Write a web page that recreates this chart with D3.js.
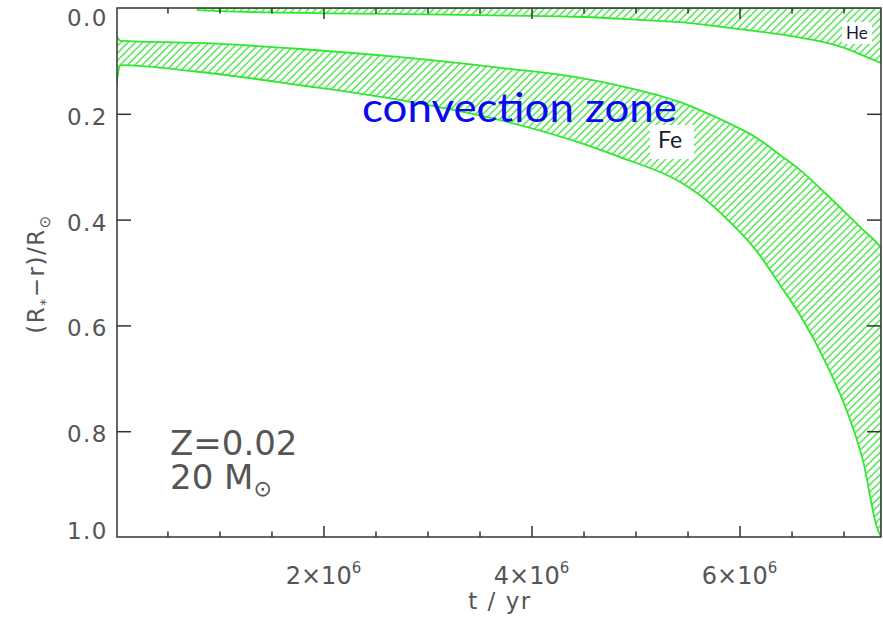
<!DOCTYPE html>
<html>
<head>
<meta charset="utf-8">
<script src="https://cdn.jsdelivr.net/npm/d3@7"></script>
<style>
  body { margin: 0; background: #fff; }
  .tick line { stroke: #333; stroke-width: 1.5; }
  .lbl { font-family: "DejaVu Sans", "Liberation Sans", sans-serif; fill: #555; }
</style>
</head>
<body>
<div id="vis"></div>
<script>
const MARGINS = { left: 117, right: 2, top: 8, bottom: 81 };
const FRAME_WIDTH = 883;
const FRAME_HEIGHT = 618;
const VIS_WIDTH = FRAME_WIDTH - MARGINS.left - MARGINS.right;
const VIS_HEIGHT = FRAME_HEIGHT - MARGINS.top - MARGINS.bottom;

// Fe convection zone: time (yr), upper and lower boundary in (R*-r)/Rsun
const feTime   = [0, 0.05e6, 0.81e6, 1.78e6, 2.74e6, 3.7e6, 4.47e6, 4.85e6, 5.43e6, 5.62e6, 5.91e6, 6.17e6, 6.39e6, 6.58e6, 6.84e6, 7.04e6, 7.19e6, 7.32e6, 7.36e6];
const feTop    = [0.05, 0.062, 0.066, 0.0775, 0.093, 0.113, 0.132, 0.147, 0.178, 0.193, 0.219, 0.246, 0.278, 0.306, 0.353, 0.391, 0.42, 0.444, 0.454];
const feBottom = [0.16, 0.108, 0.121, 0.146, 0.174, 0.212, 0.255, 0.282, 0.329, 0.354, 0.405, 0.461, 0.524, 0.58, 0.675, 0.766, 0.858, 0.981, 1.0];

// He convection zone (reaches the surface)
const heTime   = [0.79e6, 1.0e6, 2.0e6, 3.0e6, 4.0e6, 4.5e6, 5.0e6, 5.5e6, 6.0e6, 6.5e6, 6.8e6, 7.0e6, 7.2e6, 7.36e6];
const heTop    = [0, 0, 0, 0, 0, 0, 0, 0, 0, 0, 0, 0, 0, 0];
const heBottom = [0.004, 0.006, 0.01, 0.012, 0.015, 0.017, 0.022, 0.028, 0.04, 0.053, 0.064, 0.075, 0.091, 0.104];

const xMajor = [2e6, 4e6, 6e6];
const xMinor = [0.5e6, 1e6, 1.5e6, 2.5e6, 3e6, 3.5e6, 4.5e6, 5e6, 5.5e6, 6.5e6, 7e6];
const yTicks = [0, 0.2, 0.4, 0.6, 0.8, 1.0];

const svg = d3.select("#vis").append("svg")
  .attr("width", FRAME_WIDTH)
  .attr("height", FRAME_HEIGHT);

const defs = svg.append("defs");
defs.append("clipPath").attr("id", "plotclip")
  .append("rect").attr("width", VIS_WIDTH).attr("height", VIS_HEIGHT);

const hatch = defs.append("pattern")
  .attr("id", "hatch")
  .attr("patternUnits", "userSpaceOnUse")
  .attr("width", 5.2).attr("height", 10)
  .attr("patternTransform", "rotate(45)");
hatch.append("line")
  .attr("x1", 1).attr("y1", 0).attr("x2", 1).attr("y2", 10)
  .attr("stroke", "#4fe44f").attr("stroke-width", 1.45);

const X_SCALE = d3.scaleLinear().domain([0.015e6, 7.36e6]).range([0, VIS_WIDTH]);
const Y_SCALE = d3.scaleLinear().domain([0, 1]).range([0, VIS_HEIGHT]);

const g = svg.append("g")
  .attr("transform", "translate(" + MARGINS.left + "," + MARGINS.top + ")");

const plot = g.append("g").attr("clip-path", "url(#plotclip)");

function band(time, top, bottom) {
  return time.map((t, i) => ({ t: t, a: top[i], b: bottom[i] }));
}

const area = d3.area()
  .x((d) => X_SCALE(d.t))
  .y0((d) => Y_SCALE(d.a))
  .y1((d) => Y_SCALE(d.b))
  .curve(d3.curveMonotoneX);

[band(feTime, feTop, feBottom), band(heTime, heTop, heBottom)].forEach((data) => {
  plot.append("path")
    .datum(data)
    .attr("d", area)
    .attr("fill", "url(#hatch)")
    .attr("stroke", "#2fe82f")
    .attr("stroke-width", 1.8)
    .attr("stroke-linejoin", "round");
});

// axes: ticks pointing inward on all four sides
function styleAxis(sel) {
  sel.select(".domain").remove();
  sel.selectAll("text").remove();
}

g.append("g").attr("transform", "translate(0," + VIS_HEIGHT + ")")
  .call(d3.axisBottom(X_SCALE).tickValues(xMajor).tickSize(-11)).call(styleAxis);
g.append("g").attr("transform", "translate(0," + VIS_HEIGHT + ")")
  .call(d3.axisBottom(X_SCALE).tickValues(xMinor).tickSize(-5.5)).call(styleAxis);
g.append("g")
  .call(d3.axisTop(X_SCALE).tickValues(xMajor).tickSize(-11)).call(styleAxis);
g.append("g")
  .call(d3.axisTop(X_SCALE).tickValues(xMinor).tickSize(-5.5)).call(styleAxis);
g.append("g")
  .call(d3.axisLeft(Y_SCALE).tickValues(yTicks.slice(1, -1)).tickSize(-14)).call(styleAxis);
g.append("g").attr("transform", "translate(" + VIS_WIDTH + ",0)")
  .call(d3.axisRight(Y_SCALE).tickValues(yTicks.slice(1, -1)).tickSize(-14)).call(styleAxis);

g.append("rect")
  .attr("width", VIS_WIDTH).attr("height", VIS_HEIGHT)
  .attr("fill", "none").attr("stroke", "#333").attr("stroke-width", 1.5);

// y tick labels
g.selectAll(".ylab")
  .data(yTicks)
  .enter()
  .append("text")
  .attr("class", "lbl")
  .attr("x", -9)
  .attr("y", (d) => Y_SCALE(d) + 3 + (d === 0 ? 7 : d === 1 ? -9.5 : 0))
  .attr("text-anchor", "end")
  .attr("dominant-baseline", "central")
  .attr("font-size", 23)
  .attr("letter-spacing", 1.5)
  .text((d) => d.toFixed(1));

// x tick labels with exponent
const xl = g.selectAll(".xlab")
  .data(xMajor)
  .enter()
  .append("text")
  .attr("class", "lbl")
  .attr("x", (d) => X_SCALE(d))
  .attr("y", VIS_HEIGHT + 47)
  .attr("text-anchor", "middle")
  .attr("font-size", 24);
xl.append("tspan").text((d) => d / 1e6 + "\u00d710");
xl.append("tspan").attr("font-size", 15).attr("dy", -11).text("6");

// axis titles
svg.append("text")
  .attr("class", "lbl")
  .attr("x", 500).attr("y", 609)
  .attr("text-anchor", "middle")
  .attr("font-size", 23)
  .attr("letter-spacing", 1.5)
  .text("t / yr");

const yt = svg.append("text")
  .attr("class", "lbl")
  .attr("transform", "translate(44,274) rotate(-90)")
  .attr("text-anchor", "middle")
  .attr("font-size", 23)
  .attr("letter-spacing", 1.5);
yt.append("tspan").text("(R");
yt.append("tspan").attr("font-size", 14).attr("dy", 6).text("*");
yt.append("tspan").attr("dy", -6).text("\u2212r)/R");
yt.append("tspan").attr("font-size", 15).attr("dy", 6).text("\u2299");

// model annotation
svg.append("text").attr("class", "lbl")
  .attr("x", 170).attr("y", 455).attr("font-size", 34)
  .text("Z=0.02");
const mt = svg.append("text").attr("class", "lbl")
  .attr("x", 170).attr("y", 489).attr("font-size", 34);
mt.append("tspan").text("20 M");
mt.append("tspan").attr("font-size", 22).attr("dy", 7).text("\u2299");

// zone labels
svg.append("text")
  .attr("x", 362).attr("y", 122)
  .attr("font-family", "Lato, 'Open Sans', sans-serif")
  .attr("font-size", 40)
  .attr("fill", "#0a0af2")
  .attr("textLength", 315)
  .attr("lengthAdjust", "spacingAndGlyphs")
  .text("convection zone");

svg.append("rect").attr("x", 650).attr("y", 125).attr("width", 44).attr("height", 34).attr("fill", "#fff");
svg.append("text")
  .attr("x", 658).attr("y", 148)
  .attr("font-family", "Lato, 'Open Sans', sans-serif")
  .attr("font-size", 23).attr("fill", "#1a1a2a")
  .text("Fe");

svg.append("rect").attr("x", 842).attr("y", 22).attr("width", 30).attr("height", 22).attr("fill", "#fff");
svg.append("text")
  .attr("x", 846).attr("y", 39)
  .attr("font-family", "Lato, 'Open Sans', sans-serif")
  .attr("font-size", 17).attr("fill", "#1a1a3a")
  .text("He");
</script>
</body>
</html>
